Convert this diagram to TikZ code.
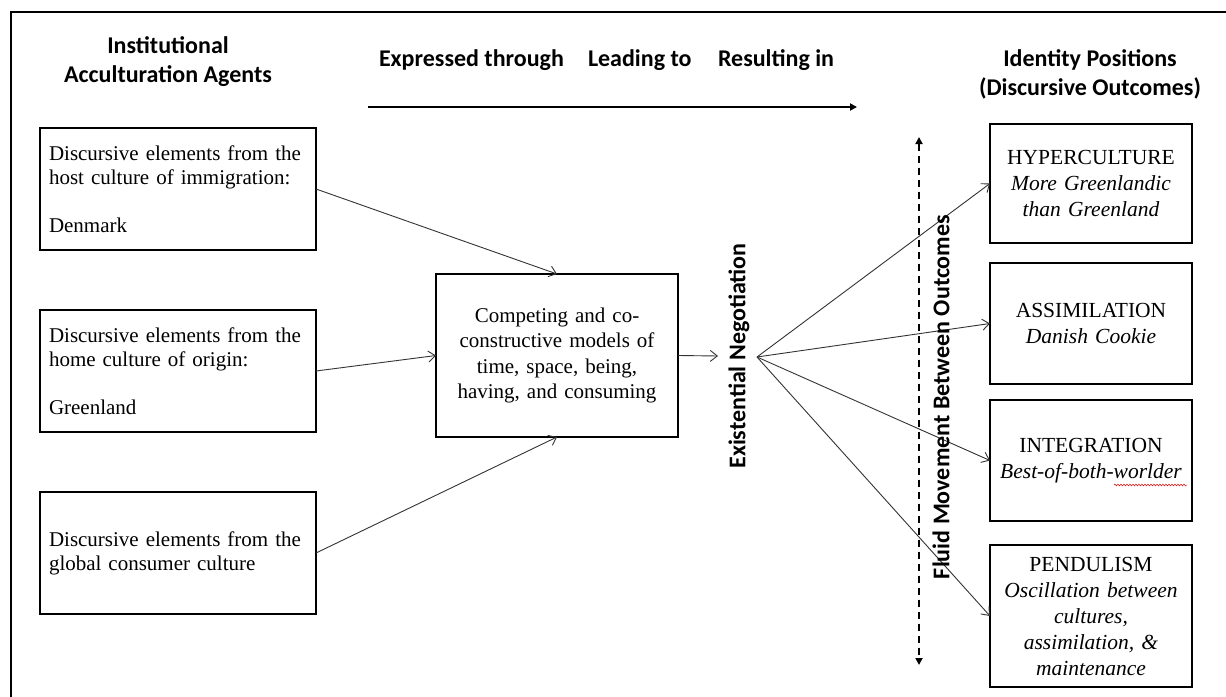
\documentclass[tikz,border=0pt]{standalone}
\usepackage{fontspec}
\setmainfont{Liberation Serif}
\newfontfamily\headfont{Carlito}
\usetikzlibrary{arrows.meta,decorations.pathmorphing}

\begin{document}
\begin{tikzpicture}[x=1pt,y=-1pt,
  every node/.style={inner sep=0pt, outer sep=0pt},
  head/.style={font=\headfont\bfseries\fontsize{24}{29}\selectfont, align=center},
  agentbox/.style={draw, line width=2pt, minimum width=276pt, minimum height=122pt,
    text width=258pt, align=left, font=\fontsize{21}{24}\selectfont},
  corebox/.style={draw, line width=2pt, minimum width=242pt, minimum height=163pt,
    text width=236pt, align=center, font=\fontsize{21}{25.5}\selectfont},
  outbox/.style={draw, line width=2pt, minimum width=202pt,
    text width=198pt, align=center, font=\fontsize{21.5}{26}\selectfont},
  link/.style={draw=black!80, line width=0.9pt, -{Straight Barb[length=7pt,width=11pt]}},
  sidetext/.style={font=\headfont\bfseries\fontsize{24}{28}\selectfont, rotate=90}
]
\useasboundingbox (0,0) rectangle (1226,696);

% outer frame
\draw[line width=2pt] (11,700) -- (11,12) -- (1230,12);

% column headings
\node[head] (hagents) at (168,62) {Institutional\\Acculturation Agents};
\node[head, anchor=west] (hexp) at (379,60) {Expressed through};
\node[head, anchor=west] (hlead) at (588,60) {Leading to};
\node[head, anchor=west] (hres) at (718,60) {Resulting in};
\node[head] (hout) at (1090,74) {Identity Positions\\(Discursive Outcomes)};

% direction of reading
\coordinate (flowA) at (368,107);
\coordinate (flowB) at (857,107);
\draw[line width=2pt, -{Triangle[length=7pt,width=7pt]}] (flowA) -- (flowB);

% acculturation agents
\node[agentbox] (host) at (178,189) {Discursive elements from the\\host culture of immigration:\\[24pt]Denmark};
\node[agentbox] (home) at (178,371) {Discursive elements from the\\home culture of origin:\\[24pt]Greenland};
\node[agentbox] (global) at (178,553) {Discursive elements from the\\global consumer culture};

% competing models
\node[corebox] (core) at (557,355.5) {Competing and co-\\constructive models of\\time, space, being,\\having, and consuming};

\draw[link] (host.east) -- (core.north);
\draw[link] (home.east) -- (core.west);
\draw[link] (global.east) -- (core.south);

% existential negotiation
\node[sidetext] (neg) at (739,356) {Existential Negotiation};
\coordinate (negin) at (718,356);
\coordinate (fan) at (757,357);
\draw[link] (core.east) -- (negin);

% identity positions
\node[outbox, minimum height=119pt] (hyper) at (1091,183.5)
  {HYPERCULTURE\\\textit{More Greenlandic}\\\textit{than Greenland}};
\node[outbox, minimum height=121pt] (assim) at (1091,323.5)
  {ASSIMILATION\\\textit{Danish Cookie}};
\node[outbox, minimum height=121pt] (integ) at (1091,460.5)
  {INTEGRATION\\\textit{Best-of-both-worlder}};
\node[outbox, minimum height=142pt] (pendu) at (1091,616)
  {PENDULISM\\\textit{Oscillation between}\\\textit{cultures,}\\\textit{assimilation, \&}\\\textit{maintenance}};

% spelling mark under the last word
\draw[red!85!black, line width=0.5pt, decorate,
  decoration={snake, amplitude=0.9pt, segment length=3pt}] (1114,485) -- (1187,485);

\draw[link] (fan) -- (hyper.west);
\draw[link] (fan) -- (assim.west);
\draw[link] (fan) -- (integ.west);
\draw[link] (fan) -- (pendu.west);

% fluid movement between outcomes
\coordinate (fluidtop) at (919,137);
\coordinate (fluidbot) at (919,665);
\draw[line width=1.8pt, dash pattern=on 7pt off 5pt,
  {Triangle[length=7pt,width=7pt]}-{Triangle[length=7pt,width=7pt]}] (fluidtop) -- (fluidbot);
\node[sidetext] (fluid) at (941,397) {Fluid Movement Between Outcomes};

\end{tikzpicture}
\end{document}
